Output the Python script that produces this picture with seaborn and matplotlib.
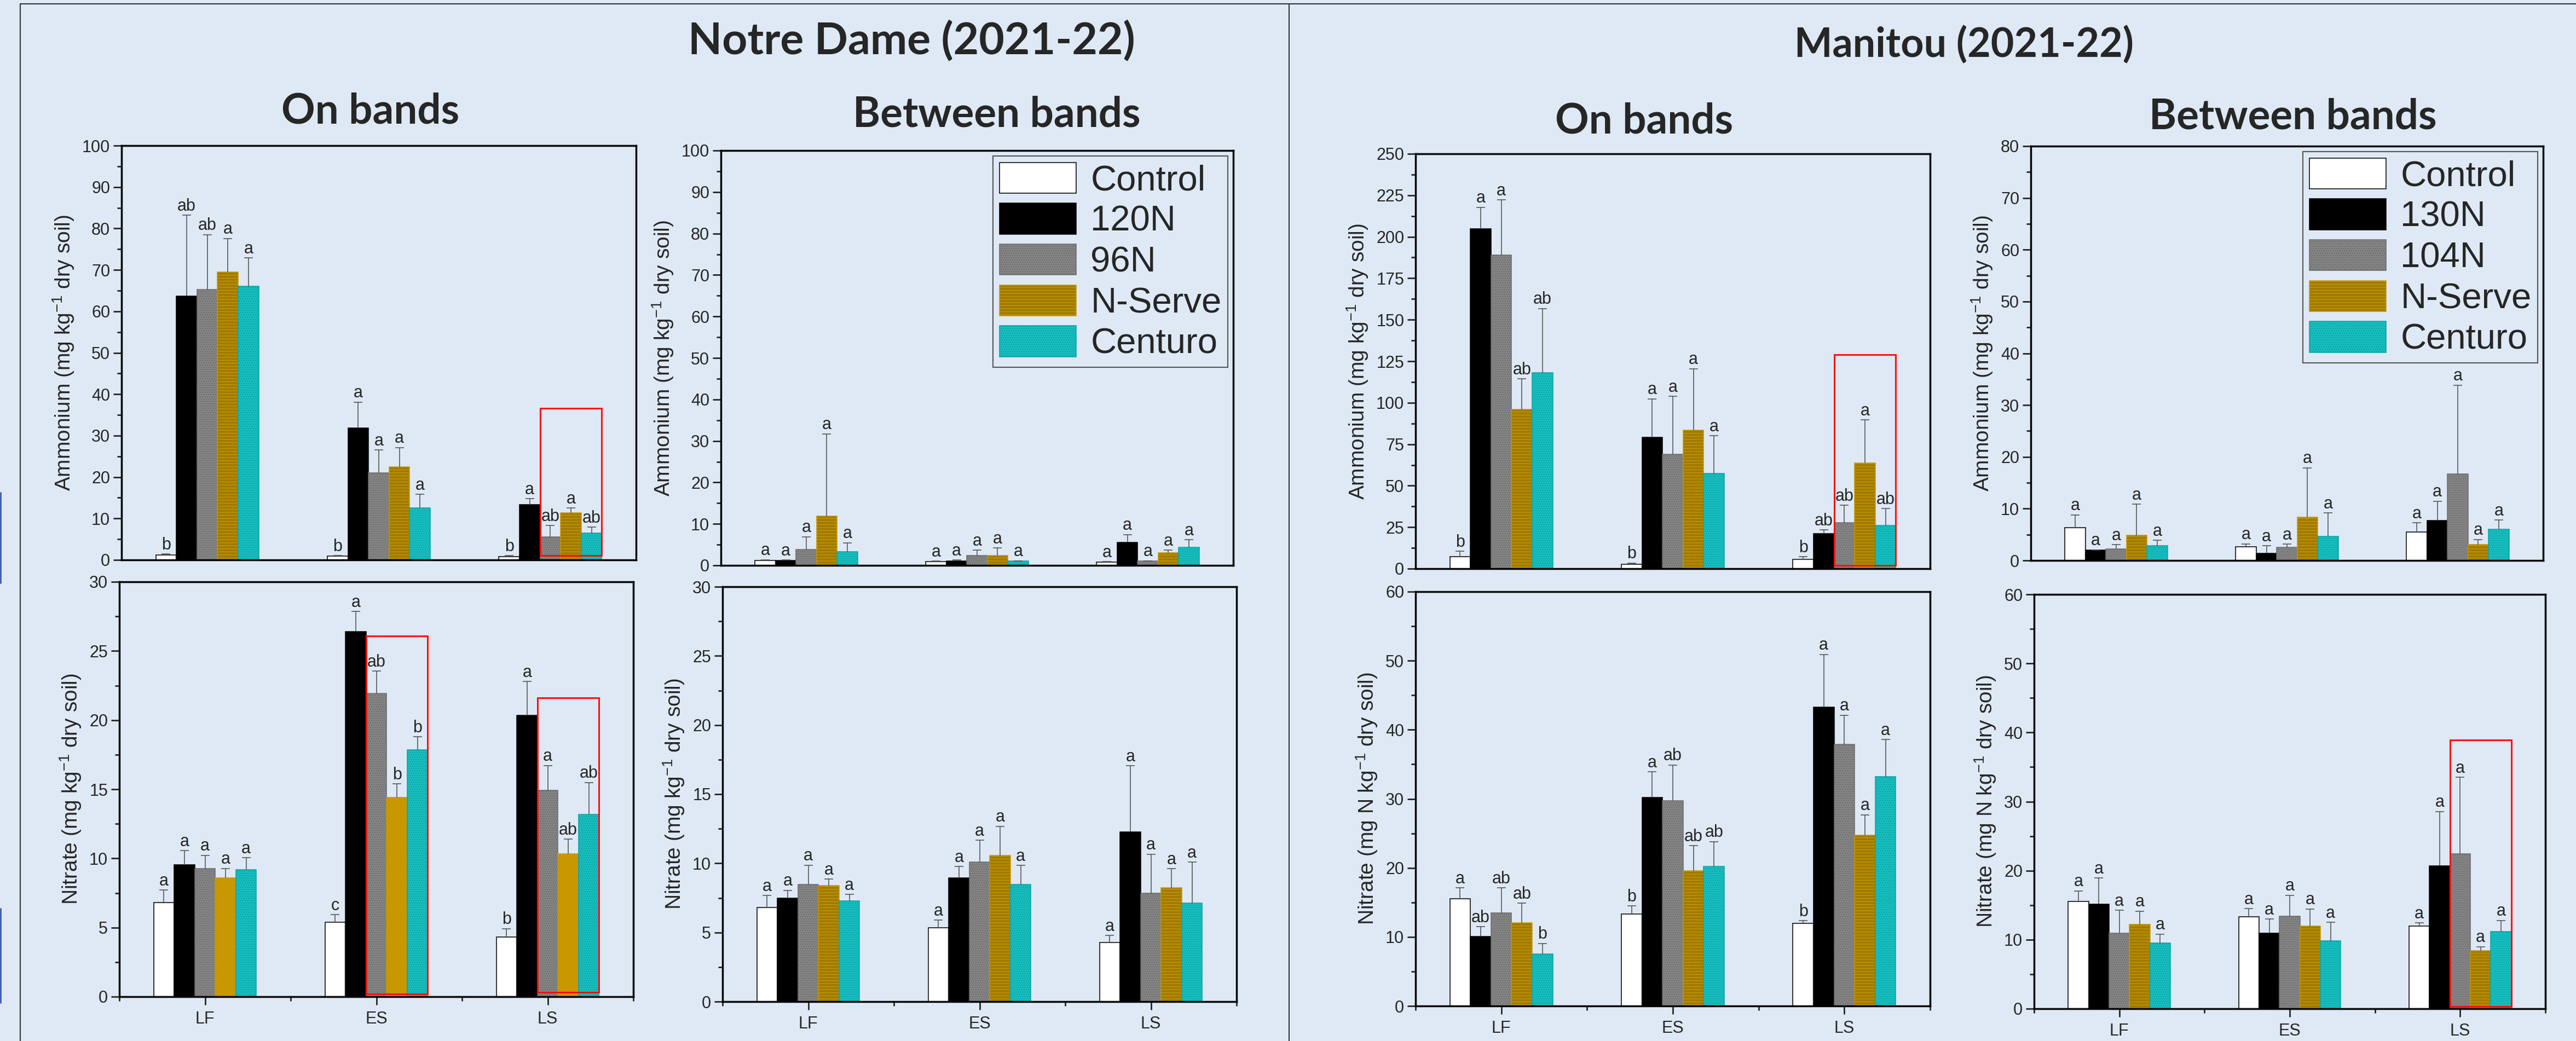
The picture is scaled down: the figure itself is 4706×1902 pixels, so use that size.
import numpy as np
import pandas as pd
import seaborn as sns
import matplotlib
matplotlib.use('Agg')
from matplotlib import pyplot as plt
from matplotlib.lines import Line2D
from matplotlib.patches import Rectangle
from matplotlib.ticker import MultipleLocator

# ---- data ----
stages = ['LF', 'ES', 'LS']
nd_treatments = ['Control', '120N', '96N', 'N-Serve', 'Centuro']
mb_treatments = ['Control', '130N', '104N', 'N-Serve', 'Centuro']

# Notre Dame, on bands, ammonium  (rows = treatments, cols = LF, ES, LS)
nd_on_nh4 = [[1.2, 0.9, 0.8], [63.7, 31.8, 13.4], [65.3, 21.0, 5.6], [69.5, 22.5, 11.4], [66.0, 12.5, 6.5]]
nd_on_nh4_se = [[0.2, 0.1, 0.2], [19.5, 6.3, 1.4], [13.2, 5.5, 2.7], [8.1, 4.6, 1.1], [6.9, 3.3, 1.4]]
nd_on_nh4_let = [['b', 'b', 'b'], ['ab', 'a', 'a'], ['ab', 'a', 'ab'], ['a', 'a', 'a'], ['a', 'a', 'ab']]

# Notre Dame, between bands, ammonium
nd_btw_nh4 = [[1.14, 0.9, 0.76], [1.2, 1.1, 5.53], [3.86, 2.42, 1.06], [11.9, 2.42, 3.1], [3.26, 1.0, 4.4]]
nd_btw_nh4_se = [[0.22, 0.1, 0.14], [0.1, 0.2, 1.89], [3.04, 1.28, 0.05], [19.8, 1.75, 0.6], [2.19, 0.1, 1.8]]
nd_btw_nh4_let = [['a', 'a', 'a']] * 5

# Notre Dame, on bands, nitrate
nd_on_no3 = [[6.81, 5.38, 4.33], [9.54, 26.38, 20.34], [9.27, 21.91, 14.92], [8.59, 14.42, 10.34], [9.2, 17.84, 13.19]]
nd_on_no3_se = [[0.89, 0.54, 0.59], [1.01, 1.48, 2.44], [0.96, 1.62, 1.8], [0.68, 0.96, 1.05], [0.85, 0.95, 2.3]]
nd_on_no3_let = [['a', 'c', 'b'], ['a', 'a', 'a'], ['a', 'ab', 'a'], ['a', 'b', 'ab'], ['a', 'b', 'ab']]

# Notre Dame, between bands, nitrate
nd_btw_no3 = [[6.79, 5.35, 4.26], [7.47, 8.93, 12.26], [8.47, 10.11, 7.84], [8.41, 10.57, 8.25], [7.29, 8.47, 7.13]]
nd_btw_no3_se = [[0.89, 0.55, 0.52], [0.57, 0.84, 4.8], [1.39, 1.55, 2.82], [0.45, 2.1, 1.36], [0.45, 1.37, 2.96]]
nd_btw_no3_let = [['a', 'a', 'a']] * 5

# Manitou, on bands, ammonium
mb_on_nh4 = [[7.4, 2.65, 5.5], [204.7, 79.0, 21.2], [189.0, 68.9, 27.7], [96.0, 83.5, 63.6], [118.0, 57.4, 26.1]]
mb_on_nh4_se = [[3.0, 0.75, 1.7], [13.1, 23.3, 2.1], [33.2, 34.9, 10.4], [18.4, 37.0, 26.0], [38.8, 22.7, 10.1]]
mb_on_nh4_let = [['b', 'b', 'b'], ['a', 'a', 'ab'], ['a', 'a', 'ab'], ['ab', 'a', 'a'], ['ab', 'a', 'ab']]

# Manitou, between bands, ammonium
mb_btw_nh4 = [[6.37, 2.67, 5.52], [2.0, 1.33, 7.7], [2.24, 2.55, 16.74], [4.91, 8.37, 3.1], [2.85, 4.67, 6.0]]
mb_btw_nh4_se = [[2.43, 0.53, 1.76], [0.06, 1.52, 3.76], [0.79, 0.6, 17.1], [5.95, 9.53, 0.96], [1.03, 4.49, 1.82]]
mb_btw_nh4_let = [['a', 'a', 'a']] * 5

# Manitou, on bands, nitrate
mb_on_no3 = [[15.5, 13.3, 11.94], [10.1, 30.2, 43.3], [13.5, 29.75, 37.9], [12.07, 19.6, 24.7], [7.5, 20.2, 33.2]]
mb_on_no3_se = [[1.6, 1.2, 0.41], [1.4, 3.7, 7.6], [3.6, 5.15, 4.2], [2.83, 3.6, 3.0], [1.57, 3.6, 5.4]]
mb_on_no3_let = [['a', 'b', 'b'], ['ab', 'a', 'a'], ['ab', 'ab', 'a'], ['ab', 'ab', 'a'], ['b', 'ab', 'a']]

# Manitou, between bands, nitrate
mb_btw_no3 = [[15.5, 13.32, 11.95], [15.15, 10.95, 20.67], [10.9, 13.41, 22.45], [12.23, 12.0, 8.44], [9.53, 9.81, 11.18]]
mb_btw_no3_se = [[1.56, 1.18, 0.46], [3.78, 2.01, 7.89], [3.33, 3.01, 11.04], [1.91, 2.46, 0.55], [1.28, 2.69, 1.59]]
mb_btw_no3_let = [['a', 'a', 'a']] * 5

# red highlight boxes: (stage, y bottom, y top), spanning the last three treatments
nd_on_nh4_box = [('LS', 1.0, 36.6)]
nd_on_no3_box = [('ES', 0.2, 26.1), ('LS', 0.3, 21.6)]
mb_on_nh4_box = [('LS', 2.1, 128.8)]
mb_btw_no3_box = [('LS', 0.3, 38.9)]

# ---- styles ----
BG = '#dee9f5'
W, H = 4706, 1902
bar_styles = [
    dict(fc='white', ec='black', hatch=None),
    dict(fc='black', ec='black', hatch=None),
    dict(fc='#858585', ec='#6b6b6b', hatch='....'),
    dict(fc='#a07a00', ec='#c79800', hatch='---'),
    dict(fc='#19bebf', ec='#07a3a5', hatch='....'),
]
plain_gold = dict(fc='#c99700', ec='#c99700', hatch=None)

sns.set_style('ticks')
plt.rcParams['font.family'] = ['Liberation Sans', 'DejaVu Sans']
plt.rcParams['mathtext.fontset'] = 'custom'
plt.rcParams['mathtext.rm'] = 'Liberation Sans'
plt.rcParams['mathtext.it'] = 'Liberation Sans'
plt.rcParams['hatch.linewidth'] = 1.0


def px_axes(fig, x0, y0, x1, y1):
    ax = fig.add_axes([x0 / W, 1 - y1 / H, (x1 - x0) / W, (y1 - y0) / H])
    ax.set_facecolor('none')
    return ax


def fig_line(fig, xs, ys, color='#333333', lw=1.5):
    fig.add_artist(Line2D([x / W for x in xs], [1 - y / H for y in ys],
                          transform=fig.transFigure, color=color, lw=lw))


def fig_title(fig, x, y, s, size=55):
    fig.text(x / W, 1 - y / H, s, ha='center', va='center', fontsize=size,
             fontweight='bold', family=['Lato', 'DejaVu Sans'])


def bar_panel(ax, treatments, means, errs, letters, ymax, major, ylabel,
              bottom_row, plain_nserve=False, boxes=(), legend=False):
    df = pd.DataFrame([{'stage': s, 'treatment': t, 'value': means[i][j]}
                       for i, t in enumerate(treatments) for j, s in enumerate(stages)])
    styles = list(bar_styles)
    if plain_nserve:
        styles[3] = plain_gold
    palette = {t: st['fc'] for t, st in zip(treatments, styles)}
    sns.barplot(data=df, x='stage', y='value', hue='treatment', order=stages,
                hue_order=treatments, palette=palette, width=0.6, gap=0,
                errorbar=None, saturation=1, legend=False, ax=ax)
    bars = list(ax.containers)
    for i, cont in enumerate(bars):
        st = styles[i]
        for p in cont.patches:
            p.set_edgecolor(st['ec'])
            p.set_linewidth(1.1)
            if st['hatch']:
                p.set_hatch(st['hatch'])
        xs = [p.get_x() + p.get_width() / 2 for p in cont.patches]
        hs = [p.get_height() for p in cont.patches]
        idx = [int(round(x)) for x in xs]
        up = [errs[i][k] for k in idx]
        eb = ax.errorbar(xs, hs, yerr=[np.zeros(len(xs)), up], fmt='none',
                         ecolor='#4d4d4d', elinewidth=1.1, capsize=6, capthick=1.1, zorder=3)
        eb.lines[1][0].set_visible(False)
        for x, h, e, k in zip(xs, hs, up, idx):
            ax.annotate(letters[i][k], (x, h + e), xytext=(0, 1), textcoords='offset points',
                        ha='center', va='bottom', fontsize=22, zorder=7)

    for stage, y0, y1 in boxes:
        k = stages.index(stage)
        ps = [[p for p in bars[i].patches if int(round(p.get_x() + p.get_width() / 2)) == k][0]
              for i in (2, 4)]
        left = ps[0].get_x()
        right = ps[1].get_x() + ps[1].get_width()
        ax.add_patch(Rectangle((left, y0), right - left, y1 - y0, fill=False,
                               ec='#ff1010', lw=2.2, zorder=6))

    ax.set_xlim(-0.5, 2.5)
    ax.set_ylim(0, ymax)
    ax.yaxis.set_major_locator(MultipleLocator(major))
    ax.yaxis.set_minor_locator(MultipleLocator(major / 2))
    ax.tick_params(axis='y', which='major', direction='out', length=11, width=2,
                   labelsize=22, pad=4, right=False)
    ax.tick_params(axis='y', which='minor', direction='out', length=6, width=2, right=False)
    for sp in ax.spines.values():
        sp.set_visible(True)
        sp.set_linewidth(2.5)
        sp.set_color('black')
    if bottom_row:
        ax.set_xticks([0, 1, 2])
        ax.set_xticklabels(stages)
        ax.set_xticks([-0.5, 0.5, 1.5, 2.5], minor=True)
        ax.tick_params(axis='x', which='major', direction='out', length=11, width=2,
                       labelsize=22, pad=8, top=False)
        ax.tick_params(axis='x', which='minor', direction='out', length=6, width=2, top=False)
    else:
        ax.tick_params(axis='x', which='both', length=0, labelbottom=False, top=False)
    ax.set_xlabel('')
    ax.set_ylabel(ylabel, fontsize=28, labelpad=8)

    if legend:
        leg = ax.legend(handles=bars, labels=treatments, loc='upper right', fontsize=47,
                        frameon=True, fancybox=False, edgecolor='#555555', facecolor=BG,
                        framealpha=1, handlelength=2.15, handleheight=0.95, labelspacing=0.17,
                        borderpad=0.18, handletextpad=0.4, borderaxespad=0.15)
        leg.get_frame().set_linewidth(1.5)
        leg.set_zorder(5)


nh4_label = 'Ammonium (mg kg$^{-1}$ dry soil)'
no3_label = 'Nitrate (mg kg$^{-1}$ dry soil)'
no3n_label = 'Nitrate (mg N kg$^{-1}$ dry soil)'

fig = plt.figure(figsize=(W / 100, H / 100), dpi=100)
fig.patch.set_facecolor(BG)

# Notre Dame
ax = px_axes(fig, 222, 266, 1162, 1023)
bar_panel(ax, nd_treatments, nd_on_nh4, nd_on_nh4_se, nd_on_nh4_let, 100, 10, nh4_label,
          False, boxes=nd_on_nh4_box)
ax = px_axes(fig, 1317, 275, 2253, 1033)
bar_panel(ax, nd_treatments, nd_btw_nh4, nd_btw_nh4_se, nd_btw_nh4_let, 100, 10, nh4_label,
          False, legend=True)
ax = px_axes(fig, 218, 1063, 1157, 1821)
bar_panel(ax, nd_treatments, nd_on_no3, nd_on_no3_se, nd_on_no3_let, 30, 5, no3_label,
          True, plain_nserve=True, boxes=nd_on_no3_box)
ax = px_axes(fig, 1320, 1072, 2259, 1830)
bar_panel(ax, nd_treatments, nd_btw_no3, nd_btw_no3_se, nd_btw_no3_let, 30, 5, no3_label, True)

# Manitou
ax = px_axes(fig, 2586, 281, 3526, 1039)
bar_panel(ax, mb_treatments, mb_on_nh4, mb_on_nh4_se, mb_on_nh4_let, 250, 25, nh4_label,
          False, boxes=mb_on_nh4_box)
ax = px_axes(fig, 3710, 267, 4646, 1024)
bar_panel(ax, mb_treatments, mb_btw_nh4, mb_btw_nh4_se, mb_btw_nh4_let, 80, 10, nh4_label,
          False, legend=True)
ax = px_axes(fig, 2586, 1081, 3526, 1838)
bar_panel(ax, mb_treatments, mb_on_no3, mb_on_no3_se, mb_on_no3_let, 60, 10, no3n_label, True)
ax = px_axes(fig, 3716, 1086, 4650, 1843)
bar_panel(ax, mb_treatments, mb_btw_no3, mb_btw_no3_se, mb_btw_no3_let, 60, 10, no3n_label,
          True, boxes=mb_btw_no3_box)

# titles
fig_title(fig, 1665, 75, 'Notre Dame (2021-22)', 58)
fig_title(fig, 677, 204, 'On bands')
fig_title(fig, 1821, 210, 'Between bands')
fig_title(fig, 3588, 82, 'Manitou (2021-22)', 53)
fig_title(fig, 3004, 222, 'On bands')
fig_title(fig, 4189, 213, 'Between bands')

# panel frames
fig_line(fig, [37, W], [7, 7])
fig_line(fig, [37, 37], [7, H])
fig_line(fig, [2355, 2355], [7, H])
fig_line(fig, [1, 1], [900, 1065], color='#3a5ca8', lw=2)
fig_line(fig, [1, 1], [1660, 1832], color='#3a5ca8', lw=2)

fig.savefig('out.png', dpi=100, facecolor=BG)
